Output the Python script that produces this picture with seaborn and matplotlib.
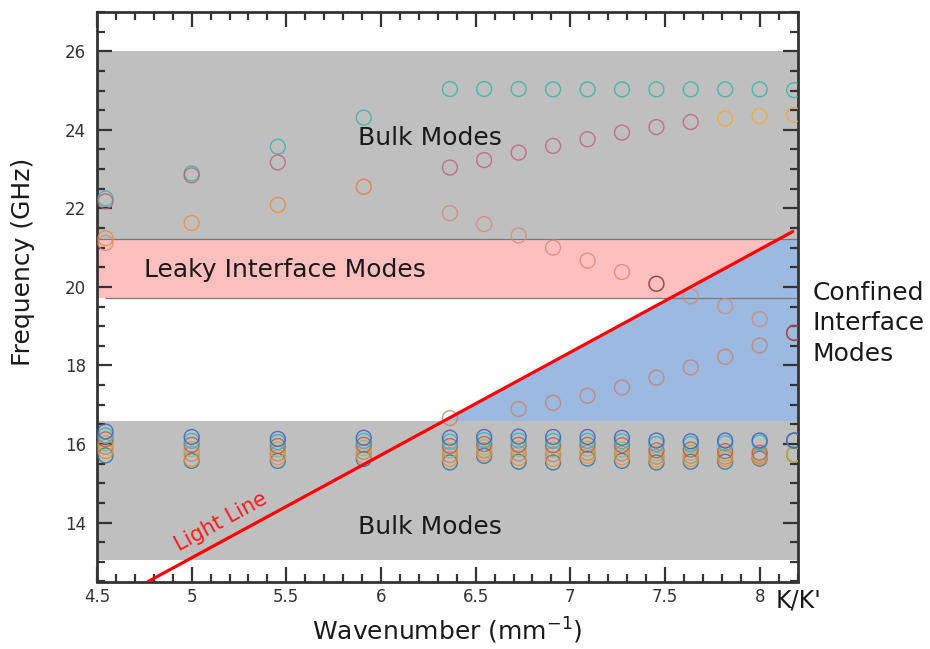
import numpy as np
import pandas as pd
import matplotlib
matplotlib.use("Agg")
import matplotlib.pyplot as plt
from matplotlib.ticker import MultipleLocator
import seaborn as sns

nan = np.nan

# Wavenumber samples (mm^-1)
k = [4.545, 5.0, 5.455, 5.909, 6.364, 6.545, 6.727, 6.909,
     7.091, 7.273, 7.455, 7.636, 7.818, 8.0, 8.182]

# Upper bulk branches (GHz)
f_teal = [22.25, 22.89, 23.57, 24.31, 25.04, 25.04, 25.04, 25.03,
          25.03, 25.03, 25.03, 25.03, 25.03, 25.03, 25.01]
f_mauve = [22.18, 22.84, 23.17, nan, 23.04, 23.23, 23.42, 23.59,
           23.76, 23.93, 24.07, 24.20, nan, nan, nan]
f_gold = [nan, nan, nan, nan, nan, nan, nan, nan,
          nan, nan, nan, nan, 24.29, 24.35, 24.38]
f_orange = [21.24, 21.63, 22.09, 22.55, nan, nan, nan, nan,
            nan, nan, nan, nan, nan, nan, nan]

# Interface branches (GHz)
f_down = [21.12, nan, nan, 22.55, 21.88, 21.60, 21.31, 21.00,
          20.67, 20.38, 20.08, 19.76, 19.51, 19.18, 18.83]
f_up = [nan, nan, nan, nan, 16.66, nan, 16.89, 17.05,
        17.23, 17.44, 17.69, 17.95, 18.22, 18.51, 18.83]
f_cross = [nan, nan, nan, nan, nan, nan, nan, nan,
           nan, nan, 20.08, nan, nan, nan, 18.83]

# Lower bulk branches (GHz)
f_l1 = [15.71, 15.57, 15.57, 15.62, 15.53, 15.70, 15.55, 15.53,
        15.63, 15.57, 15.53, 15.55, 15.55, 15.63, 15.73]
f_l2 = [15.82, 15.62, 15.66, 15.70, 15.62, 15.76, 15.64, 15.62,
        15.70, 15.66, 15.60, 15.62, 15.62, 15.66, 15.73]
f_l3 = [15.93, 15.75, 15.76, 15.80, 15.72, 15.84, 15.76, 15.74,
        15.78, 15.76, 15.68, 15.70, 15.68, 15.70, 15.73]
f_l4 = [16.02, 15.87, 15.86, 15.90, 15.84, 15.92, 15.88, 15.86,
        15.88, 15.86, 15.76, 15.78, 15.75, 15.74, 15.73]
f_l5 = [16.12, 15.98, 15.95, 15.98, 15.95, 16.00, 15.98, 15.97,
        15.98, 15.97, 15.84, 15.86, 15.82, 15.78, 16.09]
f_l6 = [16.22, 16.08, 16.05, 16.08, 16.06, 16.10, 16.09, 16.08,
        16.08, 16.07, 16.00, 16.00, 16.02, 16.04, 16.09]
f_l7 = [16.32, 16.18, 16.13, 16.16, 16.16, 16.18, 16.19, 16.18,
        16.18, 16.16, 16.09, 16.07, 16.09, 16.09, 16.09]

band_colors = {
    "l1": "#1f77b4", "l2": "#ff8c1a", "l3": "#c8826e", "l4": "#9dbb3a",
    "l5": "#d0505a", "l6": "#17becf", "l7": "#4a5cc0",
    "teal": "#35b5a5", "mauve": "#c4607c", "gold": "#f0a830",
    "orange": "#f08a3a", "down": "#d98a70", "up": "#d0806a",
    "cross": "#8b3a4a",
}
band_values = {
    "l1": f_l1, "l2": f_l2, "l3": f_l3, "l4": f_l4, "l5": f_l5,
    "l6": f_l6, "l7": f_l7, "teal": f_teal, "mauve": f_mauve,
    "gold": f_gold, "orange": f_orange, "down": f_down, "up": f_up,
    "cross": f_cross,
}

# Shaded frequency regions (GHz)
upper_bulk = (21.21, 26.0)
leaky = (19.71, 21.21)
lower_bulk = (13.06, 16.59)

# Light line end points
light_k = [4.77, 8.175]
light_f = [12.5, 21.41]

rows = []
for name, vals in band_values.items():
    for kk, ff in zip(k, vals):
        if not np.isnan(ff):
            rows.append({"k": kk, "f": ff, "band": name})
df = pd.DataFrame(rows)

sns.set_theme(style="white")
plt.rcParams["font.family"] = ["DejaVu Sans"]
plt.rcParams["mathtext.fontset"] = "dejavusans"

fig = plt.figure(figsize=(9.3, 6.49), dpi=100)
ax = fig.add_axes([97 / 930, 1 - 581.5 / 649, 700.5 / 930, 569.5 / 649])
ax.set_xlim(4.5, 8.2)
ax.set_ylim(12.5, 27.0)

# Regions
ax.axhspan(*upper_bulk, color="#bfbfbf", lw=0, zorder=0)
ax.axhspan(*leaky, color="#ffbfbf", lw=0, zorder=0)
ax.axhspan(*lower_bulk, color="#bfbfbf", lw=0, zorder=0)

# Confined region: below the light line, between lower bulk and leaky top
slope = (light_f[1] - light_f[0]) / (light_k[1] - light_k[0])
k_lo = light_k[0] + (lower_bulk[1] - light_f[0]) / slope
k_hi = light_k[0] + (leaky[1] - light_f[0]) / slope
x_right = ax.get_xlim()[1]
ax.fill([k_lo, x_right, x_right, k_hi],
        [lower_bulk[1], lower_bulk[1], leaky[1], leaky[1]],
        color="#9bb9e1", lw=0, zorder=0.5)
ax.hlines(leaky[1], 4.5, x_right, color="#7a7a7a", lw=0.9, zorder=0.6)
ax.hlines(leaky[0], 4.54, x_right, color="#7a7a7a", lw=0.9, zorder=0.6)

# Eigenfrequencies as hollow circles
sns.scatterplot(data=df, x="k", y="f", hue="band", palette=band_colors,
                s=115, marker="o", linewidth=1.0, legend=False, ax=ax,
                zorder=3)
pts = ax.collections[-1]
pts.set_edgecolors(pts.get_facecolors())
pts.set_facecolors("none")
pts.set_alpha(0.85)

# Light line
ax.plot(light_k, light_f, color="#ff0000", lw=2.3, zorder=4)

# Annotations
ax.text(5.156, 14.01, "Light Line", color="#ff1a1a", fontsize=15,
        rotation=28.6, rotation_mode="anchor", ha="center", va="center")
ax.text(6.256, 23.79, "Bulk Modes", color="#1a1a1a", fontsize=18,
        ha="center", va="center")
ax.text(6.256, 13.9, "Bulk Modes", color="#1a1a1a", fontsize=18,
        ha="center", va="center")
ax.text(4.746, 20.42, "Leaky Interface Modes", color="#1a1a1a",
        fontsize=18, ha="left", va="center")
ax.text(8.28, 19.07, "Confined\nInterface\nModes", color="#1a1a1a",
        fontsize=18, ha="left", va="center", linespacing=1.35,
        clip_on=False)
fig.text(798 / 930, 1 - 600 / 649, "K/K'", color="#1a1a1a", fontsize=17,
         ha="center", va="center")

# Axes styling
ax.set_xticks([4.5, 5, 5.5, 6, 6.5, 7, 7.5, 8])
ax.set_xticklabels(["4.5", "5", "5.5", "6", "6.5", "7", "7.5", "8"])
ax.set_yticks([14, 16, 18, 20, 22, 24, 26])
ax.xaxis.set_minor_locator(MultipleLocator(0.1))
ax.yaxis.set_minor_locator(MultipleLocator(0.5))
ax.tick_params(which="both", direction="in", top=True, right=True,
               bottom=True, left=True, color="#333333",
               labelcolor="#333333", labelsize=12)
ax.tick_params(which="major", length=11, width=1.6)
ax.tick_params(which="minor", length=6, width=1.6)
ax.tick_params(axis="x", pad=5)
ax.tick_params(axis="y", pad=8)
for sp in ax.spines.values():
    sp.set_linewidth(2.0)
    sp.set_color("#333333")
    sp.set_visible(True)

ax.set_xlabel("Wavenumber (mm$^{-1}$)", fontsize=18, color="#1a1a1a",
              labelpad=7)
ax.set_ylabel("Frequency (GHz)", fontsize=18, color="#1a1a1a")
ax.yaxis.set_label_coords(-0.088, 0.561)

fig.savefig("out.png", dpi=100)
